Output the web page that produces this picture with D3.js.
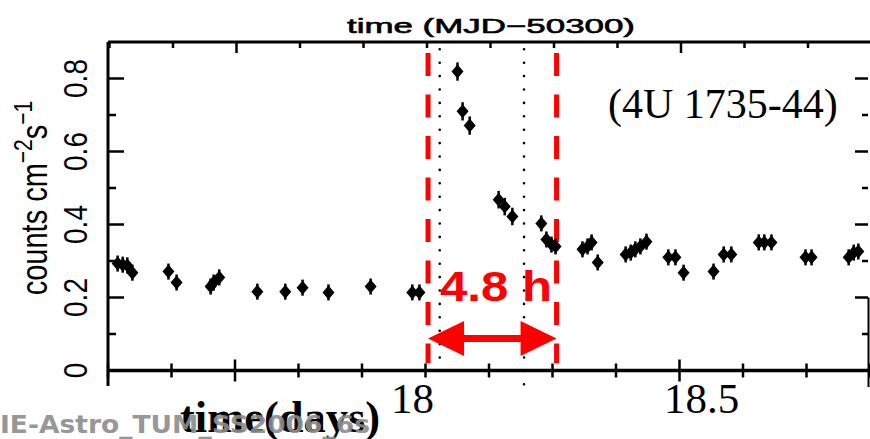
<!DOCTYPE html>
<html>
<head>
<meta charset="utf-8">
<script src="https://cdn.jsdelivr.net/npm/d3@7"></script>
<style>
  body { margin: 0; background: #fff; }
</style>
</head>
<body>
<div id="chart"></div>
<script>
// light curve of 4U 1735-44, time in days (MJD-50300)
var times = [17.394, 17.404, 17.413, 17.423, 17.494, 17.510, 17.577, 17.583, 17.594,
  17.669, 17.724, 17.758, 17.809, 17.892, 17.974, 17.988,
  18.063, 18.073, 18.087, 18.144, 18.156, 18.171, 18.228, 18.238, 18.248, 18.256,
  18.309, 18.319, 18.327, 18.339, 18.394, 18.404, 18.413, 18.423, 18.435,
  18.478, 18.492, 18.508, 18.567, 18.587, 18.602, 18.656, 18.667, 18.681,
  18.748, 18.760, 18.833, 18.843, 18.852];
var counts = [0.293, 0.290, 0.288, 0.268, 0.271, 0.241, 0.230, 0.241, 0.255,
  0.216, 0.216, 0.227, 0.214, 0.230, 0.214, 0.214,
  0.819, 0.710, 0.671, 0.468, 0.449, 0.422, 0.403, 0.359, 0.345, 0.340,
  0.332, 0.340, 0.351, 0.296, 0.318, 0.323, 0.332, 0.340, 0.353,
  0.310, 0.310, 0.268, 0.271, 0.318, 0.318, 0.351, 0.351, 0.351,
  0.310, 0.310, 0.310, 0.323, 0.326];
var countErr = [0.022, 0.022, 0.022, 0.022, 0.022, 0.022, 0.022, 0.022, 0.022,
  0.022, 0.022, 0.022, 0.022, 0.022, 0.022, 0.022,
  0.025, 0.025, 0.025, 0.024, 0.024, 0.024, 0.022, 0.022, 0.022, 0.022,
  0.022, 0.022, 0.022, 0.022, 0.022, 0.022, 0.022, 0.022, 0.022,
  0.022, 0.022, 0.022, 0.022, 0.022, 0.022, 0.022, 0.022, 0.022,
  0.022, 0.022, 0.022, 0.022, 0.022];

var xTicks = [17.375, 17.5, 17.625, 17.75, 17.875, 18, 18.125, 18.25, 18.375, 18.5, 18.625, 18.75, 18.875];
var xMajor = [17.625, 18.5];
var xLabels = ["18", "18.5"];
var xLabelValues = [18, 18.5];
var yTicks = [0, 0.2, 0.4, 0.6, 0.8];
var yLabels = ["0", "0.2", "0.4", "0.6", "0.8"];
var yMinor = [0.1, 0.3, 0.5, 0.7];

// burst window and markers
var burstWindow = [18.005, 18.258];
var dottedLines = [18.028, 18.194];

var width = 870, height = 439;
var svg = d3.select("#chart").append("svg")
    .attr("width", width)
    .attr("height", height)
    .style("font-family", "'Liberation Sans', Arial, sans-serif");

var x = d3.scaleLinear().domain([17.375, 18.875]).range([108, 870]);
var y = d3.scaleLinear().domain([0, 0.9]).range([370.5, 42]);

var red = "#ff0000";

// burst window (red dashed)
svg.selectAll("line.burst").data(burstWindow).enter().append("line")
    .attr("class", "burst")
    .attr("x1", function(d) { return x(d); })
    .attr("x2", function(d) { return x(d); })
    .attr("y1", y(0.87))
    .attr("y2", y(0.02))
    .attr("stroke", red)
    .attr("stroke-width", 5)
    .attr("stroke-dasharray", "23 18.5");

// dotted lines
svg.selectAll("line.dot").data(dottedLines).enter().append("line")
    .attr("class", "dot")
    .attr("x1", function(d) { return x(d); })
    .attr("x2", function(d) { return x(d); })
    .attr("y1", y(0.88))
    .attr("y2", function(d, i) { return i == 0 ? 378 : 386; })
    .attr("stroke", "#000")
    .attr("stroke-width", 2.6)
    .attr("stroke-linecap", "round")
    .attr("stroke-dasharray", "0 13.4");

// axes frame
var g = svg.append("g").attr("stroke", "#000");
g.append("line").attr("x1", x.range()[0]).attr("x2", width).attr("y1", y(0.9)).attr("y2", y(0.9)).attr("stroke-width", 3);
g.append("line").attr("x1", x.range()[0]).attr("x2", width).attr("y1", y(0)).attr("y2", y(0)).attr("stroke-width", 3.5);
g.append("line").attr("x1", x.range()[0]).attr("x2", x.range()[0]).attr("y1", y(0.9)).attr("y2", 386).attr("stroke-width", 3);
g.append("line").attr("x1", 868.5).attr("x2", 868.5).attr("y1", y(0.2)).attr("y2", 387).attr("stroke-width", 2);

// x ticks bottom (crossing) and top (inward)
g.selectAll("line.xb").data(xTicks).enter().append("line")
    .attr("x1", function(d) { return x(d); })
    .attr("x2", function(d) { return x(d); })
    .attr("y1", function(d) { return y(0) - (xMajor.indexOf(d) >= 0 ? 11 : 7); })
    .attr("y2", function(d) { return y(0) + (xMajor.indexOf(d) >= 0 ? 11 : 7); })
    .attr("stroke-width", 2.5);
g.selectAll("line.xt").data(xTicks).enter().append("line")
    .attr("x1", function(d) { return x(d) + 1.5; })
    .attr("x2", function(d) { return x(d) + 1.5; })
    .attr("y1", y(0.9))
    .attr("y2", function(d) { return y(0.9) + (xMajor.indexOf(d) >= 0 ? 11 : 6); })
    .attr("stroke-width", 2.5);

// y ticks left and right
g.selectAll("line.yl").data(yTicks).enter().append("line")
    .attr("x1", x.range()[0]).attr("x2", x.range()[0] + 16)
    .attr("y1", function(d) { return y(d); }).attr("y2", function(d) { return y(d); })
    .attr("stroke-width", 2.5);
g.selectAll("line.ylm").data(yMinor).enter().append("line")
    .attr("x1", x.range()[0]).attr("x2", x.range()[0] + 8)
    .attr("y1", function(d) { return y(d); }).attr("y2", function(d) { return y(d); })
    .attr("stroke-width", 2.5);
g.selectAll("line.yr").data(yTicks.slice(1)).enter().append("line")
    .attr("x1", 868).attr("x2", 855)
    .attr("y1", function(d) { return y(d); }).attr("y2", function(d) { return y(d); })
    .attr("stroke-width", 2.5);
g.selectAll("line.yrm").data(yMinor).enter().append("line")
    .attr("x1", 868).attr("x2", 862)
    .attr("y1", function(d) { return y(d); }).attr("y2", function(d) { return y(d); })
    .attr("stroke-width", 2.5);

// y tick labels (rotated, stretched like the original)
svg.selectAll("text.ytl").data(yTicks).enter().append("text")
    .attr("transform", function(d) { return "translate(87," + y(d) + ") rotate(-90) scale(1,1.2)"; })
    .attr("text-anchor", "middle")
    .attr("font-size", 28)
    .text(function(d, i) { return yLabels[i]; });

// y axis title
var yt = svg.append("text")
    .attr("transform", "translate(47,198) rotate(-90) scale(1,1.25)")
    .attr("text-anchor", "middle")
    .attr("font-size", 29);
yt.append("tspan").text("counts cm");
yt.append("tspan").attr("dy", -12).attr("font-size", 21).text("\u22122");
yt.append("tspan").attr("dy", 12).text("s");
yt.append("tspan").attr("dy", -12).attr("font-size", 21).text("\u22121");

// top title
svg.append("text")
    .attr("x", 347).attr("y", 33)
    .attr("font-size", 20)
    .attr("stroke", "#000")
    .attr("stroke-width", 0.6)
    .attr("textLength", 288)
    .attr("lengthAdjust", "spacingAndGlyphs")
    .text("time  (MJD\u221250300)");

// data: error bars + diamonds
var pts = svg.append("g");
pts.selectAll("line.err").data(times).enter().append("line")
    .attr("x1", function(d) { return x(d); })
    .attr("x2", function(d) { return x(d); })
    .attr("y1", function(d, i) { return y(counts[i] + countErr[i]); })
    .attr("y2", function(d, i) { return y(counts[i] - countErr[i]); })
    .attr("stroke", "#000")
    .attr("stroke-width", 2.5);
pts.selectAll("path.pt").data(times).enter().append("path")
    .attr("d", function(d, i) {
      var cx = x(d), cy = y(counts[i]);
      return "M" + cx + "," + (cy - 7) + "L" + (cx + 6) + "," + cy + "L" + cx + "," + (cy + 7) + "L" + (cx - 6) + "," + cy + "Z";
    })
    .attr("fill", "#000");

// double arrow for burst duration
var ay = y(0.088), x0 = x(burstWindow[0]), x1 = x(burstWindow[1]);
svg.append("line")
    .attr("x1", x0 + 30).attr("x2", x1 - 30)
    .attr("y1", ay).attr("y2", ay)
    .attr("stroke", red).attr("stroke-width", 7);
svg.append("path")
    .attr("d", "M" + x0 + "," + ay + "L" + (x0 + 36) + "," + (ay - 17.5) + "L" + (x0 + 36) + "," + (ay + 17.5) + "Z")
    .attr("fill", red);
svg.append("path")
    .attr("d", "M" + x1 + "," + ay + "L" + (x1 - 36) + "," + (ay - 17.5) + "L" + (x1 - 36) + "," + (ay + 17.5) + "Z")
    .attr("fill", red);
svg.append("text")
    .attr("x", 440).attr("y", y(0.19))
    .attr("font-size", 42)
    .attr("font-weight", "bold")
    .attr("fill", red)
    .attr("textLength", 112)
    .attr("lengthAdjust", "spacingAndGlyphs")
    .text("4.8  h");

// source name
svg.append("text")
    .attr("x", 608).attr("y", 118)
    .attr("font-family", "'Liberation Serif', 'Times New Roman', serif")
    .attr("font-size", 42)
    .text("(4U 1735-44)");

// bottom tick labels (pasted-on serif labels)
var labelX = d3.scaleLinear().domain([18, 18.5]).range([x(18) - 13, x(18.5) + 22]);
svg.selectAll("text.xtl").data(xLabelValues).enter().append("text")
    .attr("x", function(d) { return labelX(d); })
    .attr("y", 413)
    .attr("text-anchor", "middle")
    .attr("font-family", "'Liberation Serif', 'Times New Roman', serif")
    .attr("font-size", 43)
    .text(function(d, i) { return xLabels[i]; });

// x axis title
svg.append("text")
    .attr("x", 180).attr("y", 432)
    .attr("font-family", "'Liberation Serif', 'Times New Roman', serif")
    .attr("font-weight", "bold")
    .attr("font-size", 44)
    .attr("textLength", 200)
    .attr("lengthAdjust", "spacingAndGlyphs")
    .text("time(days)");

// grey file stamp
svg.append("text")
    .attr("x", 0).attr("y", 433)
    .attr("font-family", "'DejaVu Sans', sans-serif")
    .attr("font-weight", "bold")
    .attr("font-size", 24)
    .attr("fill", "#8c8c8c")
    .attr("opacity", 0.9)
    .attr("textLength", 370)
    .attr("lengthAdjust", "spacingAndGlyphs")
    .text("IE-Astro_TUM_SS2006_6s");
</script>
</body>
</html>
